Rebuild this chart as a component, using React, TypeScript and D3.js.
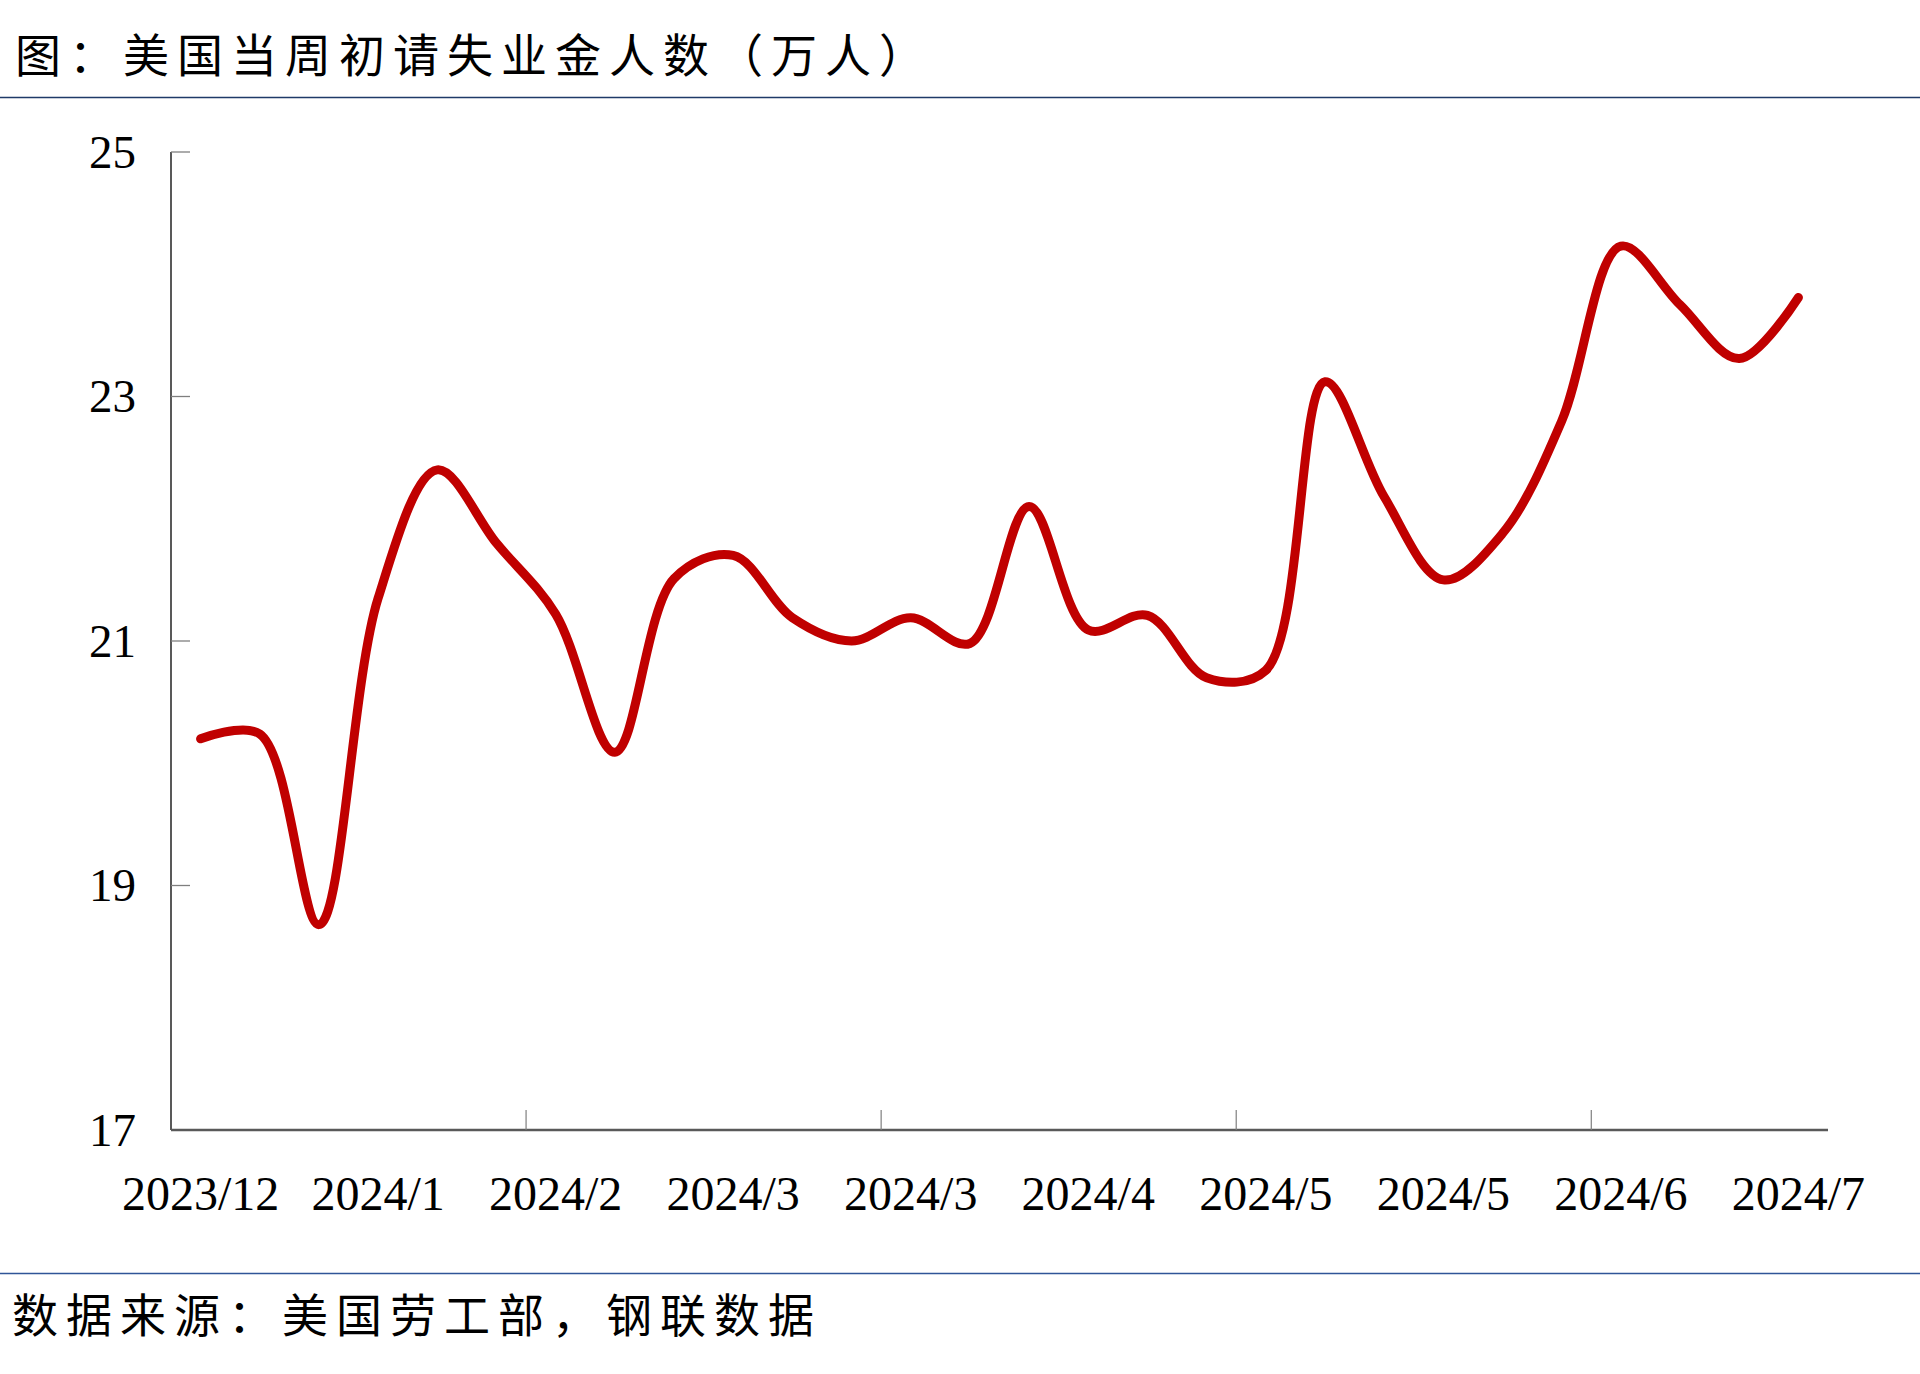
import React from "react";
import * as d3 from "d3";

const titleText = "图：美国当周初请失业金人数（万人）";
const sourceText = "数据来源：美国劳工部，钢联数据";

// weekly initial jobless claims (10k persons)
const claims = [
  20.2, 20.24, 18.68, 21.35, 22.4, 21.8, 21.22, 20.09, 21.51, 21.7,
  21.19, 21.0, 21.19, 20.98, 22.1, 21.09, 21.21, 20.7, 20.76, 23.12,
  22.18, 21.5, 21.88, 22.8, 24.23, 23.75, 23.31, 23.81,
];

// labels shown every 3 weeks
const xLabels = [
  "2023/12", "2024/1", "2024/2", "2024/3", "2024/3",
  "2024/4", "2024/5", "2024/5", "2024/6", "2024/7",
];
const labelEvery = 3;
const tickEvery = 6;

const yTicks = [17, 19, 21, 23, 25];
const yDomain = [17, 25];

const W = 1920;
const H = 1374;
const plot = { left: 171, right: 1828, top: 152, bottom: 1130 };

export default function App() {
  const idx = claims.map((_, i) => i);
  const x = d3
    .scaleBand<number>()
    .domain(idx)
    .range([plot.left, plot.right])
    .padding(0);
  const bw = x.bandwidth();
  const cx = (i: number) => (x(i) as number) + bw / 2;
  const y = d3.scaleLinear().domain(yDomain).range([plot.bottom, plot.top]);

  const line = d3
    .line<number>()
    .x((_, i) => cx(i))
    .y((d) => y(d))
    .curve(d3.curveCatmullRom.alpha(0.5));

  const xTickIdx = idx.filter((i) => i > 0 && i % tickEvery === 0);

  const numFont = "'Liberation Serif', 'Times New Roman', serif";
  const cjkFont = "'Noto Sans CJK SC', sans-serif";

  return (
    <svg
      width={W}
      height={H}
      style={{ position: "absolute", left: 0, top: 0, background: "#fff" }}
    >
      <rect x={0} y={0} width={W} height={H} fill="#fff" />
      <text
        x={15}
        y={72}
        fontFamily={cjkFont}
        fontSize={46}
        letterSpacing={8}
        fill="#000"
      >
        {titleText}
      </text>
      <line x1={0} x2={W} y1={97.5} y2={97.5} stroke="#1F3A68" strokeWidth={1.5} />

      {/* y axis */}
      <line
        x1={plot.left}
        x2={plot.left}
        y1={plot.top}
        y2={plot.bottom}
        stroke="#595959"
        strokeWidth={2}
      />
      {yTicks.map((t) => (
        <g key={t}>
          {t !== yDomain[0] && (
            <line
              x1={plot.left}
              x2={plot.left + 19}
              y1={y(t)}
              y2={y(t)}
              stroke="#7f7f7f"
              strokeWidth={1.3}
            />
          )}
          <text
            x={136}
            y={y(t)}
            dy="0.33em"
            textAnchor="end"
            fontFamily={numFont}
            fontSize={47}
            fill="#000"
          >
            {t}
          </text>
        </g>
      ))}

      {/* x axis */}
      <line
        x1={plot.left}
        x2={plot.right}
        y1={plot.bottom}
        y2={plot.bottom}
        stroke="#595959"
        strokeWidth={2.5}
      />
      {xTickIdx.map((i) => (
        <line
          key={i}
          x1={x(i) as number}
          x2={x(i) as number}
          y1={plot.bottom}
          y2={plot.bottom - 20}
          stroke="#7f7f7f"
          strokeWidth={1.2}
        />
      ))}
      {xLabels.map((lab, j) => (
        <text
          key={j}
          x={cx(j * labelEvery)}
          y={1210}
          textAnchor="middle"
          fontFamily={numFont}
          fontSize={48}
          fill="#000"
        >
          {lab}
        </text>
      ))}

      <path
        d={line(claims) || ""}
        fill="none"
        stroke="#C00000"
        strokeWidth={9}
        strokeLinecap="round"
        strokeLinejoin="round"
      />

      <line x1={0} x2={W} y1={1273.5} y2={1273.5} stroke="#2F5597" strokeWidth={1.5} />
      <text
        x={12}
        y={1332}
        fontFamily={cjkFont}
        fontSize={46}
        letterSpacing={8}
        fill="#000"
      >
        {sourceText}
      </text>
    </svg>
  );
}
